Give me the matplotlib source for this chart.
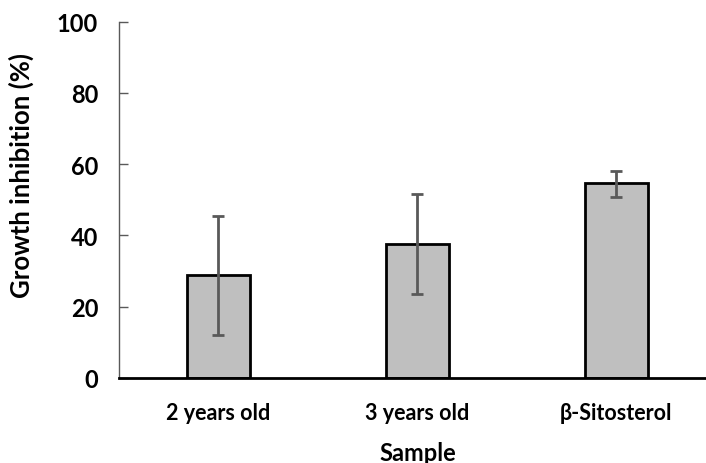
import numpy as np
import matplotlib.pyplot as plt

samples = ['2 years old', '3 years old', 'β-Sitosterol']
inhibition = [28.9, 37.5, 54.7]
err_low = [16.8, 14.0, 4.0]
err_high = [16.6, 14.1, 3.3]

plt.rcParams['font.family'] = ['Lato', 'DejaVu Sans']
plt.rcParams['font.weight'] = 'bold'

fig = plt.figure(figsize=(7.06, 4.64), dpi=100)
ax = fig.add_axes([119/706, 1-379/464, 597/706, (379-22.7)/464])

x = np.arange(len(samples))
ax.bar(x, inhibition, width=0.316, color='#bfbfbf', edgecolor='black', linewidth=2, zorder=2)
ax.errorbar(x, inhibition, yerr=[err_low, err_high], fmt='none', ecolor='#595959',
            elinewidth=2, capsize=4.5, capthick=2, zorder=3)

ax.set_xlim(-0.5, 2.5)
ax.set_ylim(0, 100)
ax.set_yticks([0, 20, 40, 60, 80, 100])
ax.set_xticks(x)
ax.set_xticklabels(samples, fontsize=15.5, fontweight='bold')
ax.tick_params(axis='y', direction='in', length=6.5, width=1, color='#595959',
               labelsize=17, pad=15)
ax.tick_params(axis='x', length=0, pad=17)
for lbl in ax.get_yticklabels():
    lbl.set_fontweight('bold')

ax.spines['top'].set_visible(False)
ax.spines['right'].set_visible(False)
ax.spines['left'].set_color('#595959')
ax.spines['left'].set_linewidth(1)
ax.spines['bottom'].set_color('black')
ax.spines['bottom'].set_linewidth(2)

ax.set_xlabel('Sample', fontsize=17, fontweight='bold')
ax.xaxis.set_label_coords((417.5-119)/597, (379-442)/356.3)
ax.set_ylabel('Growth inhibition (%)', fontsize=18.5, fontweight='bold')
ax.yaxis.set_label_coords((34-119)/597, (379-176)/356.3)

fig.savefig('out.png', dpi=100)
